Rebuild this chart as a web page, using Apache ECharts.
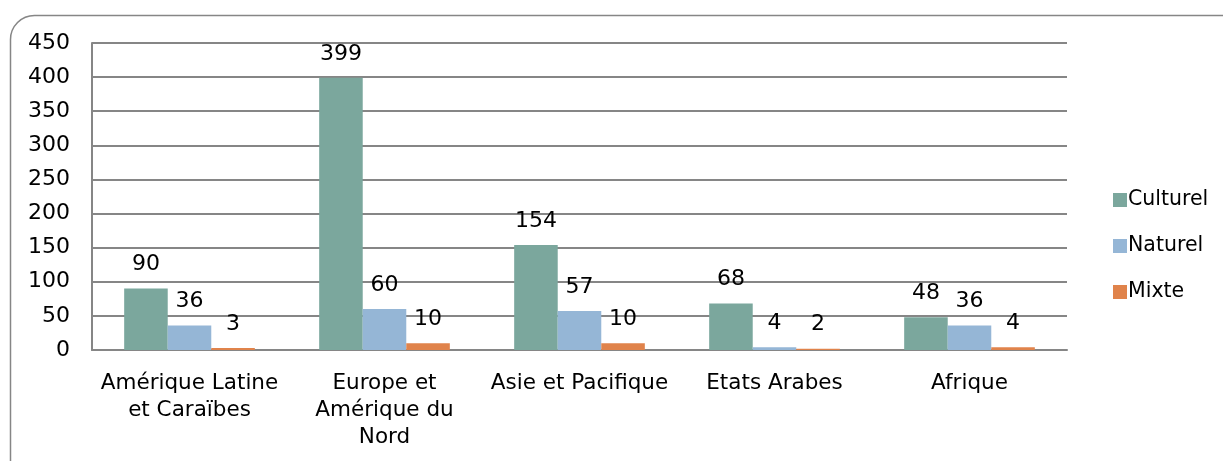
<!DOCTYPE html>
<html>
<head>
<meta charset="utf-8">
<script src="https://cdn.jsdelivr.net/npm/echarts@6/dist/echarts.min.js"></script>
<style>html,body{margin:0;padding:0;background:#fff;}#c{width:1223px;height:461px;}</style>
</head>
<body>
<div id="c"></div>
<script>
const categories = ['Amérique Latine\net Caraïbes', 'Europe et\nAmérique du\nNord', 'Asie et Pacifique', 'Etats Arabes', 'Afrique'];
const seriesNames = ['Culturel', 'Naturel', 'Mixte'];
const culturel = [90, 399, 154, 68, 48];
const naturel = [36, 60, 57, 4, 36];
const mixte = [3, 10, 10, 2, 4];
const yTicks = { min: 0, max: 450, interval: 50 };

const colors = ['#7BA79D', '#95B6D6', '#E0834B'];
const font = 'DejaVu Sans';
const chart = echarts.init(document.getElementById('c'), null, { renderer: 'canvas' });
const values = [culturel, naturel, mixte];
chart.setOption({
  animation: false,
  textStyle: { fontFamily: font },
  graphic: [{
    type: 'rect', left: 8, top: 13, silent: true, z: -1,
    shape: { x: 0, y: 0, width: 1240, height: 470, r: 24 },
    style: { fill: 'none', stroke: '#868686', lineWidth: 1.5 }
  }],
  grid: { left: 92, right: 156, top: 43, bottom: 111 },
  legend: {
    orient: 'vertical', left: 1108, top: 184,
    itemWidth: 14, itemHeight: 14, itemGap: 24,
    icon: 'rect',
    textStyle: { fontFamily: font, fontSize: 20.5, color: '#000', lineHeight: 22, padding: [0, 0, 0, -4] },
    data: seriesNames
  },
  xAxis: {
    type: 'category', data: categories,
    axisLine: { lineStyle: { color: '#868686', width: 2 } },
    axisTick: { show: false },
    axisLabel: { fontFamily: font, fontSize: 21.5, color: '#000', lineHeight: 27, margin: 20, interval: 0 }
  },
  yAxis: {
    type: 'value', min: yTicks.min, max: yTicks.max, interval: yTicks.interval,
    axisLine: { show: true, lineStyle: { color: '#868686', width: 2 } },
    axisTick: { show: false },
    splitLine: { lineStyle: { color: '#868686', width: 2 } },
    axisLabel: { fontFamily: font, fontSize: 22, color: '#000', margin: 22 }
  },
  series: seriesNames.map((n, i) => ({
    name: n, type: 'bar', data: values[i],
    barGap: '0%', barCategoryGap: '33%',
    itemStyle: { color: colors[i] },
    label: { show: true, position: 'top', distance: 13, fontFamily: font, fontSize: 22, color: '#000' }
  }))
});
</script>
</body>
</html>
